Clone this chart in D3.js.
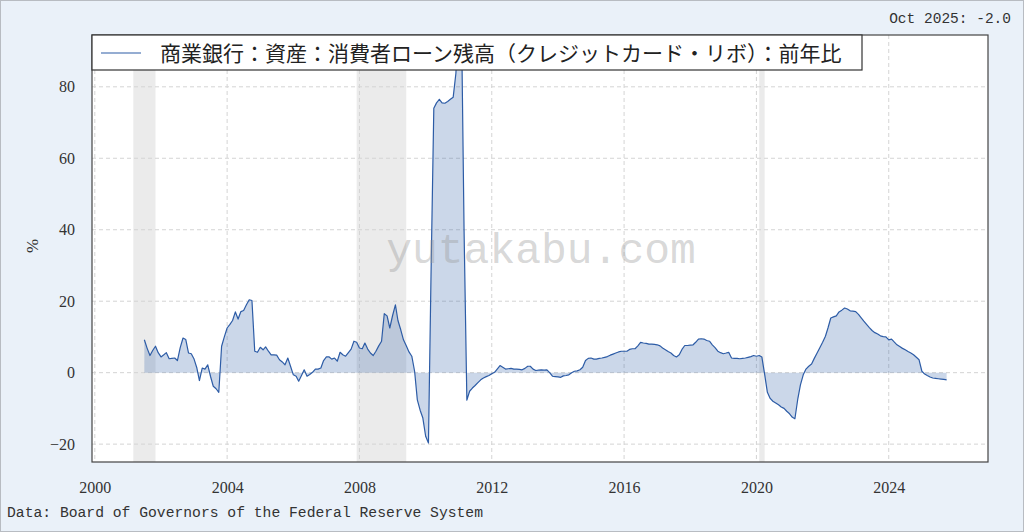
<!DOCTYPE html>
<html>
<head>
<meta charset="utf-8">
<script src="https://cdn.jsdelivr.net/npm/d3@7"></script>
<style>
  html, body { margin: 0; padding: 0; background: #eaf1f9; }
  svg { display: block; }
</style>
</head>
<body>
<svg id="chart" width="1024" height="532"></svg>
<script>
// ---- data (monthly, year-over-year %, starting Jul 2001) ----
const startYear = 2001;
const startMonth = 7; // July
const values2001 = [9.2, 6.8, 4.8, 6.2, 7.4, 5.6];
const values2002 = [4.4, 5.0, 5.6, 3.9, 4.0, 4.1, 3.4, 7.0, 9.7, 9.3, 5.5, 5.3];
const values2003 = [3.8, 1.3, -2.2, 1.3, 1.0, 2.2, -1.0, -3.8, -4.5, -5.5, 7.4, 10.0];
const values2004 = [12.5, 13.5, 14.6, 17.0, 15.0, 17.1, 17.4, 19.0, 20.4, 20.2, 6.0, 5.7];
const values2005 = [7.1, 6.4, 7.2, 6.0, 5.0, 5.0, 4.9, 3.6, 3.0, 2.2, 4.1, 1.8];
const values2006 = [-0.6, -1.0, -2.4, -0.8, 0.8, -1.0, -0.5, 0.1, 1.0, 1.0, 1.3, 3.4];
const values2007 = [4.4, 4.4, 3.8, 4.1, 3.2, 5.7, 5.0, 4.6, 5.6, 6.6, 8.8, 8.5];
const values2008 = [6.9, 6.7, 8.3, 6.6, 5.5, 4.8, 6.0, 7.5, 8.8, 16.5, 15.9, 12.5];
const values2009 = [16.0, 19.0, 14.6, 12.0, 9.2, 7.5, 5.8, 4.6, 0.4, -7.6, -10.5, -12.7];
const values2010 = [-17.8, -19.7, 27.0, 74.0, 75.5, 76.5, 75.5, 75.4, 75.9, 76.5, 77.1, 83.8];
const values2011 = [100.0, 98.0, 40.0, -7.7, -5.2, -4.3, -3.6, -2.8, -2.0, -1.5, -1.1, -0.8];
const values2012 = [-0.3, 0.1, 1.0, 2.0, 1.5, 1.0, 1.1, 1.2, 1.0, 1.0, 0.9, 0.8];
const values2013 = [1.2, 1.8, 1.8, 1.0, 0.6, 0.7, 0.8, 0.7, 0.8, 0.0, -1.0, -1.1];
const values2014 = [-1.2, -1.3, -0.9, -0.8, -0.6, 0.0, 0.4, 0.5, 0.8, 1.5, 3.4, 4.0];
const values2015 = [4.1, 3.8, 3.8, 4.0, 4.1, 4.3, 4.5, 4.9, 5.2, 5.5, 5.8, 6.0];
const values2016 = [6.0, 6.0, 6.5, 6.7, 6.7, 7.5, 8.5, 8.3, 8.2, 8.0, 8.0, 7.9];
const values2017 = [7.8, 7.5, 6.9, 6.4, 5.9, 5.5, 4.8, 4.4, 5.0, 6.5, 7.6, 7.6];
const values2018 = [7.7, 7.8, 8.5, 9.4, 9.5, 9.4, 9.0, 8.8, 7.8, 7.0, 6.0, 5.6];
const values2019 = [5.3, 5.5, 5.7, 4.1, 4.0, 4.0, 3.9, 4.0, 4.1, 4.3, 4.5, 4.8];
const values2020 = [4.6, 4.8, 4.4, -0.5, -5.5, -7.2, -8.0, -8.5, -9.0, -9.6, -10.0, -10.8];
const values2021 = [-11.5, -12.5, -12.9, -7.5, -3.4, -0.6, 1.0, 1.8, 2.4, 4.0, 5.5, 7.0];
const values2022 = [8.5, 10.2, 12.5, 15.3, 15.6, 15.9, 17.0, 17.5, 18.1, 17.8, 17.3, 17.2];
const values2023 = [17.1, 16.3, 15.4, 14.4, 13.5, 12.6, 11.8, 11.2, 10.8, 10.3, 10.1, 10.0];
const values2024 = [9.2, 9.4, 8.6, 7.8, 7.3, 6.8, 6.4, 5.9, 5.5, 5.0, 4.3, 3.6];
const values2025 = [0.4, -0.4, -0.8, -1.2, -1.5, -1.6, -1.7, -1.8, -1.9, -2.0];

const recessions = [
  ["2001-03-01", "2001-11-01"],
  ["2007-12-01", "2009-06-01"],
  ["2020-02-01", "2020-04-01"]
];
const xTickYears = [2000, 2004, 2008, 2012, 2016, 2020, 2024];
const yTicks = [-20, 0, 20, 40, 60, 80];
const seriesName = "商業銀行：資産：消費者ローン残高（クレジットカード・リボ）：前年比";
const latestLabel = "Oct 2025: -2.0";
const sourceLabel = "Data: Board of Governors of the Federal Reserve System";
const yLabel = "%";
const watermark = "yutakabu.com";

// ---- build series ----
const allValues = [].concat(values2001, values2002, values2003, values2004, values2005,
  values2006, values2007, values2008, values2009, values2010, values2011, values2012,
  values2013, values2014, values2015, values2016, values2017, values2018, values2019,
  values2020, values2021, values2022, values2023, values2024, values2025);
const data = allValues.map((v, i) => ({ date: new Date(startYear, startMonth - 1 + i, 1), value: v }));

// ---- layout ----
const W = 1024, H = 532;
const plot = { left: 92, right: 988, top: 35, bottom: 462 };

const svg = d3.select("#chart");
svg.append("rect").attr("x", 0.5).attr("y", 0.5).attr("width", W - 1).attr("height", H - 1)
  .attr("fill", "#eaf1f9").attr("stroke", "#b8bcc2").attr("stroke-width", 1);

const x = d3.scaleTime()
  .domain([new Date(1999, 11, 1), new Date(2027, 0, 1)])
  .range([plot.left, plot.right]);
const y = d3.scaleLinear()
  .domain([-25, 94.5])
  .range([plot.bottom, plot.top]);

svg.append("defs").append("clipPath").attr("id", "clip")
  .append("rect").attr("x", plot.left).attr("y", plot.top)
  .attr("width", plot.right - plot.left).attr("height", plot.bottom - plot.top);

// plot background
svg.append("rect").attr("x", plot.left).attr("y", plot.top)
  .attr("width", plot.right - plot.left).attr("height", plot.bottom - plot.top)
  .attr("fill", "#ffffff");

const g = svg.append("g").attr("clip-path", "url(#clip)");

// recession bands
g.selectAll("rect.rec").data(recessions).enter().append("rect")
  .attr("class", "rec")
  .attr("x", d => x(new Date(d[0])))
  .attr("width", d => x(new Date(d[1])) - x(new Date(d[0])))
  .attr("y", plot.top).attr("height", plot.bottom - plot.top)
  .attr("fill", "#ebebeb");

// grid
const xTickDates = xTickYears.map(yr => new Date(yr, 0, 1));
g.selectAll("line.vg").data(xTickDates).enter().append("line")
  .attr("x1", d => x(d)).attr("x2", d => x(d))
  .attr("y1", plot.top).attr("y2", plot.bottom)
  .attr("stroke", "#d4d4d4").attr("stroke-width", 1).attr("stroke-dasharray", "4,3");
g.selectAll("line.hg").data(yTicks).enter().append("line")
  .attr("x1", plot.left).attr("x2", plot.right)
  .attr("y1", d => y(d)).attr("y2", d => y(d))
  .attr("stroke", "#d4d4d4").attr("stroke-width", 1).attr("stroke-dasharray", "4,3");

// area + line
const area = d3.area().x(d => x(d.date)).y0(y(0)).y1(d => y(d.value));
const line = d3.line().x(d => x(d.date)).y(d => y(d.value));
g.append("path").datum(data).attr("d", area).attr("fill", "#2f5ea8").attr("fill-opacity", 0.25);
g.append("path").datum(data).attr("d", line).attr("fill", "none")
  .attr("stroke", "#2d5ca6").attr("stroke-width", 1.2).attr("stroke-linejoin", "round");

// watermark
svg.append("text").attr("x", 541).attr("y", 263).attr("text-anchor", "middle")
  .attr("font-family", "'Liberation Mono', monospace").attr("font-size", 43)
  .attr("fill", "#9a9a9a").attr("fill-opacity", 0.4).text(watermark);

// plot border
svg.append("rect").attr("x", plot.left).attr("y", plot.top)
  .attr("width", plot.right - plot.left).attr("height", plot.bottom - plot.top)
  .attr("fill", "none").attr("stroke", "#444").attr("stroke-width", 1.2);

// axes
const xAxis = d3.axisBottom(x).tickValues(xTickDates).tickFormat(d3.timeFormat("%Y"))
  .tickSize(0).tickPadding(20);
const xg = svg.append("g").attr("transform", `translate(0,${plot.bottom})`).call(xAxis);
const yAxis = d3.axisLeft(y).tickValues(yTicks).tickFormat(d => d < 0 ? "\u2212" + Math.abs(d) : d)
  .tickSize(0).tickPadding(17);
const yg = svg.append("g").attr("transform", `translate(${plot.left},0)`).call(yAxis);
[xg, yg].forEach(a => {
  a.select(".domain").remove();
  a.selectAll("text").attr("font-family", "'Liberation Serif', serif").attr("font-size", 16).attr("fill", "#333");
});

// y label
svg.append("text").attr("transform", "translate(38,246) rotate(-90)")
  .attr("text-anchor", "middle").attr("font-family", "'Liberation Serif', serif")
  .attr("font-size", 17).attr("fill", "#333").text(yLabel);

// legend
const lg = svg.append("g");
lg.append("rect").attr("x", plot.left).attr("y", plot.top).attr("width", 770).attr("height", 35)
  .attr("fill", "#ffffff").attr("stroke", "#333").attr("stroke-width", 1.2);
lg.append("line").attr("x1", 101).attr("x2", 141).attr("y1", 53).attr("y2", 53)
  .attr("stroke", "#2d5ca6").attr("stroke-width", 1.2);
lg.append("text").attr("x", 160).attr("y", 61)
  .attr("font-family", "'Noto Sans CJK JP', sans-serif").attr("font-size", 21)
  .attr("fill", "#222").text(seriesName);

// latest value and source
svg.append("text").attr("x", 1011).attr("y", 23).attr("text-anchor", "end")
  .attr("font-family", "'Liberation Mono', monospace").attr("font-size", 14.5)
  .attr("fill", "#333").text(latestLabel);
svg.append("text").attr("x", 7).attr("y", 517)
  .attr("font-family", "'Liberation Mono', monospace").attr("font-size", 14.7)
  .attr("fill", "#333").text(sourceLabel);
</script>
</body>
</html>
